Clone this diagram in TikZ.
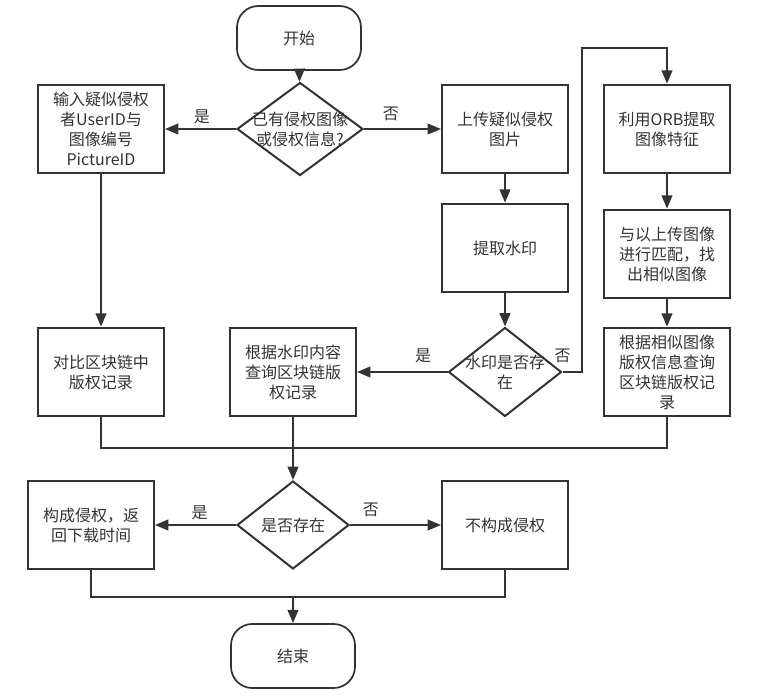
\documentclass[tikz,border=0pt]{standalone}
\usepackage{fontspec}
\newfontfamily\cjk{Noto Sans CJK SC}
\usepackage{tikz}
\usetikzlibrary{positioning, arrows.meta, shapes.geometric}
\definecolor{lineColor}{RGB}{51, 51, 51}

\begin{document}
\begin{tikzpicture}[
  x=0.75pt, y=-0.75pt,
  every node/.style={font=\cjk\fontsize{12}{15}\selectfont, text=lineColor},
  procbox/.style={rectangle, draw=lineColor, line width=1.5pt, minimum width=94.5pt,
    minimum height=66.5pt, inner sep=0pt, align=center},
  terminal/.style={rectangle, draw=lineColor, line width=1.3pt, rounded corners=16pt,
    minimum width=93pt, minimum height=48pt, inner sep=0pt},
  decision/.style={diamond, draw=lineColor, line width=1.5pt, inner sep=0pt},
  joinline/.style={draw=lineColor, line width=1.5pt},
  flow/.style={joinline, -{Triangle[length=10pt, width=8pt]}}
]
\useasboundingbox (0,0) rectangle (758,697);

\node[terminal] (startNode) at (299,38) {开始};
\node[decision, minimum width=94.5pt, minimum height=69.75pt,
  label={[align=center]center:已有侵权图像\\或侵权信息?}] (hasInfo) at (300,129) {};
\node[procbox] (inputId) at (101,129) {输入疑似侵权\\者UserID与\\图像编号\\PictureID};
\node[procbox] (upload) at (505,129) {上传疑似侵权\\图片};
\node[procbox] (orbFeat) at (667,129) {利用ORB提取\\图像特征};
\node[procbox] (extract) at (505,248) {提取水印};
\node[procbox] (matchImg) at (667,254) {与以上传图像\\进行匹配，找\\出相似图像};
\node[decision, minimum width=84.75pt, minimum height=66.75pt,
  label={[align=center]center:水印是否存\\在}] (hasMark) at (505,372) {};
\node[procbox] (compare) at (101,372) {对比区块链中\\版权记录};
\node[procbox] (markQuery) at (293,372) {根据水印内容\\查询区块链版\\权记录};
\node[procbox] (simQuery) at (667,372) {根据相似图像\\版权信息查询\\区块链版权记\\录};
\node[decision, minimum width=84pt, minimum height=66pt,
  label={center:是否存在}] (exists) at (293,525) {};
\node[procbox] (infringe) at (91,525) {构成侵权，返\\回下载时间};
\node[procbox] (noInfringe) at (505,525) {不构成侵权};
\node[terminal] (endNode) at (293,656) {结束};

\coordinate (loopTop) at (582,48);
\coordinate (mergeA) at (293,448);
\coordinate (mergeB) at (293,597);

\draw[flow] (startNode) -- (hasInfo);
\draw[flow] (hasInfo.west) -- node[above, pos=0.48] {是} (inputId.east);
\draw[flow] (hasInfo.east) -- node[above=2pt, pos=0.35] {否} (upload.west);
\draw[flow] (inputId) -- (compare);
\draw[flow] (upload) -- (extract);
\draw[flow] (extract) -- (hasMark);
\draw[flow] (hasMark.west) -- node[above=3pt, pos=0.27] {是} (markQuery.east);
\draw[flow] (hasMark.east) node[above=3pt] {否} -| (loopTop) -| (orbFeat.north);
\draw[flow] (orbFeat) -- (matchImg);
\draw[flow] (matchImg) -- (simQuery);
\draw[joinline] (compare.south) |- (mergeA) -| (simQuery.south);
\draw[flow] (markQuery) -- (exists);
\draw[flow] (exists.west) -- node[above, pos=0.45] {是} (infringe.east);
\draw[flow] (exists.east) -- node[above=2pt, pos=0.23] {否} (noInfringe.west);
\draw[joinline] (infringe.south) |- (mergeB) -| (noInfringe.south);
\draw[flow] (mergeB) -- (endNode);
\end{tikzpicture}
\end{document}
